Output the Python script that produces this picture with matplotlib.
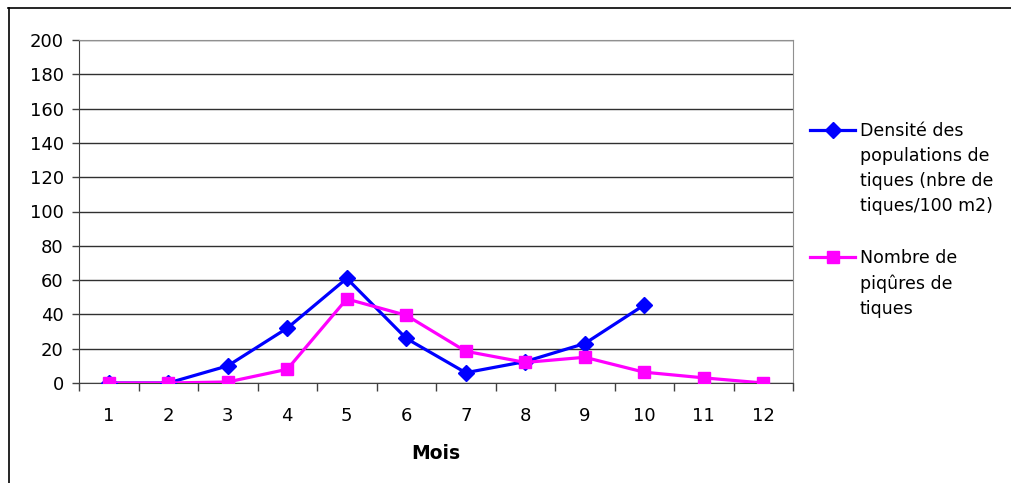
import numpy as np
import matplotlib
matplotlib.use("Agg")
import matplotlib.pyplot as plt
from matplotlib.lines import Line2D

plt.rcParams['font.family'] = ['DejaVu Sans']

# data
mois = np.arange(1, 13)
densite = [0, 0, 10, 32, 61, 26, 6, 12.5, 23, 45.5]
piqures = [0, 0, 0.6, 8, 49, 39.5, 18.5, 12, 15, 6.3, 3, 0]
yticks = np.arange(0, 201, 20)

label_densite = "Densité des\npopulations de\ntiques (nbre de\ntiques/100 m2)"
label_piqures = "Nombre de\npiqûres de\ntiques"

W, H = 1011, 483
fig = plt.figure(figsize=(W / 100, H / 100), dpi=100)
ax = fig.add_axes([79 / W, 1 - 383 / H, (793 - 79) / W, (383 - 40) / H])

# outer chart frame (top and left edges visible)
fig.add_artist(Line2D([8 / W, 1], [1 - 7.5 / H, 1 - 7.5 / H], color='black', lw=1.2))
fig.add_artist(Line2D([8.5 / W, 8.5 / W], [0, 1 - 7.5 / H], color='black', lw=1.2))

blue = '#0000FF'
pink = '#FF00FF'
ax.plot(mois[:len(densite)], densite, color=blue, lw=2.3, marker='D', ms=8, zorder=3)
ax.plot(mois, piqures, color=pink, lw=2.3, marker='s', ms=8.5, zorder=3)

ax.set_xlim(0.5, 12.5)
ax.set_ylim(0, 200)
ax.set_yticks(yticks)
ax.set_yticklabels([str(v) for v in yticks], fontsize=13)
ax.set_xticks(mois)
ax.set_xticklabels([str(m) for m in mois], fontsize=13)
ax.set_xticks(np.arange(0.5, 13, 1), minor=True)
ax.tick_params(axis='x', which='major', length=0, pad=17)
ax.tick_params(axis='x', which='minor', length=6, width=1, color='#404040')
ax.tick_params(axis='y', length=5, width=1, color='#404040', pad=6)

ax.grid(axis='y', color='#303030', lw=1)
ax.set_axisbelow(True)
for side in ['left', 'bottom']:
    ax.spines[side].set_color('#404040')
ax.spines['right'].set_color('#909090')
ax.spines['top'].set_color('#909090')

ax.set_xlabel("Mois", fontsize=13.5, fontweight='bold')
ax.xaxis.set_label_coords(0.5, (383 - 444) / 343)

# legend drawn by hand so the key sits on the first line of each label
for y_px, col, mk, ms, lab in [(130, blue, 'D', 8, label_densite), (257, pink, 's', 8.5, label_piqures)]:
    yf = 1 - y_px / H
    fig.add_artist(Line2D([810 / W, 832.5 / W, 855 / W], [yf, yf, yf], color=col, lw=2.3,
                          marker=mk, ms=ms, markevery=[1]))
    fig.text(860 / W, 1 - (y_px - 8) / H, lab, fontsize=12.5, va='top', ha='left',
             linespacing=1.5)

fig.savefig("out.png", dpi=100)
